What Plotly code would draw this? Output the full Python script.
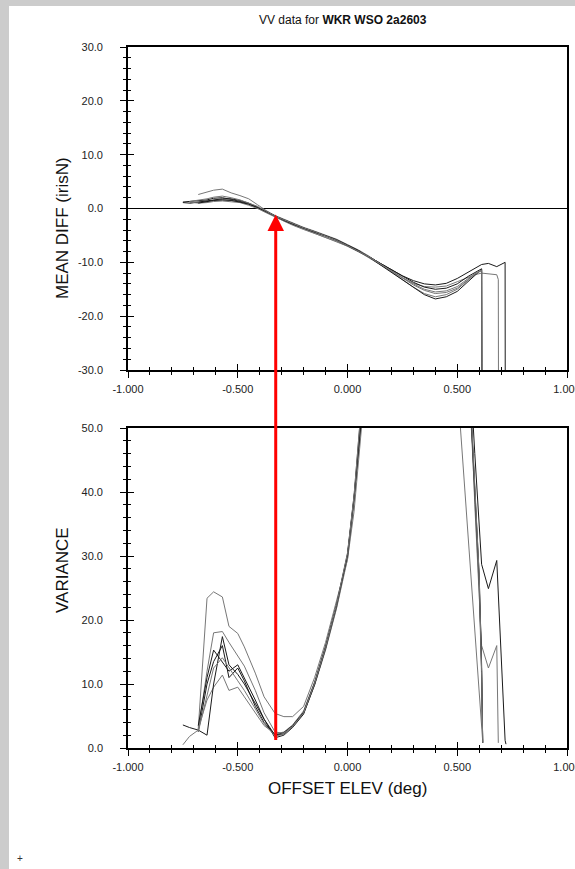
import plotly.graph_objects as go

# ---------------- data ----------------
# offset elevation grid (deg) for MEAN DIFF panel
X_TOP = [-0.75, -0.72, -0.68, -0.64, -0.61, -0.57, -0.53, -0.49, -0.45, -0.41,
         -0.37, -0.33, -0.29, -0.25, -0.20, -0.15, -0.10, -0.05, 0.00, 0.05,
         0.10, 0.15, 0.20, 0.25, 0.30, 0.35, 0.40, 0.45, 0.50, 0.55,
         0.58, 0.611, 0.614, 0.642, 0.68, 0.687, 0.69, 0.718, 0.72]

MEAN_1 = [1.2, 1.3, 1.4, 1.6, 1.9, 2.0, 1.7, 1.3, 0.9, 0.2,
          -0.6, -1.5, -2.2, -2.9, -3.7, -4.4, -5.1, -5.9, -6.9, -7.9,
          -9.0, -10.2, -11.4, -12.5, -13.4, -14.0, -14.2, -13.9, -13.0, -11.8,
          -11.0, -10.4, None, -10.2, -10.8, None, None, -10.0, -80.0]
MEAN_2 = [None, 1.0, 1.1, 1.3, 1.5, 1.6, 1.5, 1.2, 0.8, 0.1,
          -0.7, -1.6, -2.3, -3.0, -3.8, -4.5, -5.3, -6.1, -7.0, -8.0,
          -9.2, -10.5, -11.7, -12.9, -13.9, -14.5, -14.6, -14.4, -13.6, -12.8,
          -12.3, -12.0, None, -12.1, -12.3, -13.2, -80.0, None, None]
MEAN_3 = [None, None, 2.6, 3.1, 3.4, 3.6, 2.9, 2.4, 1.8, 0.7,
          -0.4, -1.3, -2.0, -2.7, -3.5, -4.2, -4.9, -5.7, -6.7, -7.7,
          -8.9, -10.3, -11.7, -13.2, -14.6, -15.8, -16.4, -16.0, -15.0, -13.3,
          -12.2, -11.5, -80.0, None, None, None, None, None, None]
MEAN_4 = [1.1, 1.0, 1.2, 1.4, 1.6, 1.8, 1.8, 1.5, 1.0, 0.3,
          -0.5, -1.4, -2.1, -2.8, -3.6, -4.3, -5.0, -5.8, -6.8, -7.8,
          -9.1, -10.5, -11.9, -13.3, -14.7, -16.0, -16.8, -16.4, -15.4, -13.6,
          -12.4, -11.3, -80.0, None, None, None, None, None, None]
MEAN_5 = [None, 1.2, 1.0, 1.1, 1.3, 1.4, 1.3, 1.1, 0.6, 0.0,
          -0.8, -1.6, -2.3, -3.1, -3.9, -4.6, -5.3, -6.1, -7.0, -8.0,
          -9.1, -10.3, -11.6, -12.8, -14.0, -15.0, -15.5, -15.3, -14.5, -13.0,
          -12.1, -11.6, -80.0, None, None, None, None, None, None]
MEAN_6 = [None, None, 1.0, 1.3, 1.5, 1.6, 1.5, 1.2, 0.8, 0.2,
          -0.6, -1.5, -2.2, -2.9, -3.7, -4.4, -5.1, -5.9, -6.9, -7.9,
          -9.0, -10.2, -11.4, -12.6, -13.7, -14.6, -15.0, -14.8, -14.0, -12.6,
          -11.9, -11.2, -80.0, None, None, None, None, None, None]
MEAN_7 = [None, 1.3, 1.5, 1.8, 2.1, 2.3, 2.0, 1.6, 1.0, 0.4,
          -0.5, -1.4, -2.1, -2.8, -3.6, -4.3, -5.1, -5.9, -6.9, -7.9,
          -9.0, -10.3, -11.6, -12.9, -14.2, -15.2, -15.8, -15.6, -14.8, -13.2,
          -12.2, -11.4, -80.0, None, None, None, None, None, None]

# offset elevation grid (deg) for VARIANCE panel
X_BOT = [-0.75, -0.72, -0.68, -0.64, -0.61, -0.57, -0.54, -0.50, -0.47, -0.42,
         -0.38, -0.33, -0.29, -0.25, -0.20, -0.15, -0.10, -0.05, 0.00, 0.03,
         0.06, 0.10, 0.30, 0.50, 0.53, 0.56, 0.58, 0.60, 0.611, 0.616,
         0.642, 0.68, 0.687, 0.718, 0.722]

VAR_1 = [None, None, 2.5, 10.0, 13.5, 16.0, 11.0, 12.5, 10.5, 6.5,
         4.0, 2.0, 2.2, 3.3, 5.5, 10.0, 15.5, 22.0, 30.0, 39.0,
         50.0, 68.0, 300.0, 120.0, 85.0, 58.0, 46.0, 35.0, 28.7, None,
         24.9, 29.3, None, 1.2, 0.6]
VAR_2 = [None, None, 3.0, 7.5, 9.5, 11.4, 9.0, 9.5, 8.0, 5.5,
         3.5, 2.2, 2.5, 3.6, 5.8, 10.3, 16.0, 22.5, 30.5, 39.5,
         51.0, 69.0, 300.0, 110.0, 80.0, 55.0, 38.0, 24.0, 16.0, None,
         12.5, 16.0, 0.8, None, None]
VAR_3 = [None, None, 3.0, 23.4, 24.4, 23.6, 19.0, 17.9, 15.8, 11.7,
         8.0, 5.4, 4.9, 4.9, 6.5, 11.0, 16.5, 23.0, 29.5, 37.0,
         47.0, 64.0, 300.0, 57.0, None, None, None, None, None, 1.0,
         None, None, None, None, None]
VAR_4 = [3.6, 3.2, 2.8, 2.0, 10.0, 17.4, 13.0, 11.5, 10.0, 7.0,
         4.5, 2.0, 2.4, 3.5, 5.6, 10.2, 15.8, 22.2, 30.0, 39.0,
         50.0, 68.0, 300.0, 100.0, 75.0, 54.0, 40.0, 26.0, 12.0, 0.8,
         None, None, None, None, None]
VAR_5 = [0.5, 1.8, 2.8, 12.0, 18.0, 18.2, 16.5, 14.5, 12.8, 9.0,
         5.5, 2.5, 2.3, 3.4, 5.4, 9.8, 15.3, 21.8, 29.5, 38.5,
         49.5, 67.0, 300.0, 100.0, 75.0, 53.0, 39.0, 25.0, 11.0, 0.8,
         None, None, None, None, None]
VAR_6 = [None, None, 3.5, 11.0, 15.3, 13.5, 12.0, 13.0, 11.0, 7.5,
         4.5, 1.6, 2.0, 3.2, 5.3, 9.9, 15.6, 22.3, 30.2, 39.2,
         50.5, 68.0, 300.0, 100.0, 75.0, 54.0, 40.0, 27.0, 13.0, 0.8,
         None, None, None, None, None]
VAR_7 = [None, None, 2.5, 8.0, 12.5, 14.1, 12.5, 10.5, 9.0, 6.0,
         3.8, 1.9, 2.1, 3.3, 5.5, 10.1, 15.7, 22.4, 30.4, 39.5,
         50.8, 69.0, 300.0, 100.0, 75.0, 55.0, 41.0, 27.0, 12.0, 0.8,
         None, None, None, None, None]

MEAN_SERIES = [MEAN_1, MEAN_2, MEAN_3, MEAN_4, MEAN_5, MEAN_6, MEAN_7]
VAR_SERIES = [VAR_1, VAR_2, VAR_3, VAR_4, VAR_5, VAR_6, VAR_7]

# tick values / labels (plain hyphen minus, as in the original)
X_TICKS = [-1.0, -0.5, 0.0, 0.5, 1.0]
X_TICK_TEXT = ["-1.000", "-0.500", "0.000", "0.500", "1.000"]
MEAN_TICKS = [-30, -20, -10, 0, 10, 20, 30]
MEAN_TICK_TEXT = ["-30.0", "-20.0", "-10.0", "0.0", "10.0", "20.0", "30.0"]
VAR_TICKS = [0, 10, 20, 30, 40, 50]
VAR_TICK_TEXT = ["0.0", "10.0", "20.0", "30.0", "40.0", "50.0"]

# red marker arrow: offset elevation and the two ends (variance -> mean diff)
ARROW_X = -0.327
ARROW_HEAD_MEANDIFF = -1.1
ARROW_TAIL_VARIANCE = 1.0

TITLE_PLAIN = "VV data for "
TITLE_BOLD = "WKR WSO 2a2603"

# ---------------- style / layout ----------------
W, H = 575, 869
LINE_COLORS = ["#1a1a1a", "#777777", "#777777", "#1a1a1a", "#777777", "#1a1a1a", "#777777"]

XD = [128 / W, 567 / W]
YT = [1 - 370 / H, 1 - 47 / H]
YB = [1 - 748 / H, 1 - 428 / H]
TOP_RANGE = [-30, 30]
BOT_RANGE = [0, 50]

FONT = "Liberation Sans, Arial, sans-serif"
TICKFONT = dict(family=FONT, size=11, color="#222222")

fig = go.Figure()
for ys, c in zip(MEAN_SERIES, LINE_COLORS):
    fig.add_trace(go.Scatter(x=X_TOP, y=ys, xaxis="x", yaxis="y", mode="lines",
                             line=dict(color=c, width=1), connectgaps=True,
                             hoverinfo="skip", showlegend=False))
for ys, c in zip(VAR_SERIES, LINE_COLORS):
    fig.add_trace(go.Scatter(x=X_BOT, y=ys, xaxis="x2", yaxis="y2", mode="lines",
                             line=dict(color=c, width=1), connectgaps=True,
                             hoverinfo="skip", showlegend=False))
# helper traces so that the inside-tick overlay axes are drawn
fig.add_trace(go.Scatter(x=[None], y=[None], xaxis="x3", yaxis="y3", mode="lines",
                         showlegend=False, hoverinfo="skip"))
fig.add_trace(go.Scatter(x=[None], y=[None], xaxis="x4", yaxis="y4", mode="lines",
                         showlegend=False, hoverinfo="skip"))


def base_axis(rng, tickvals, ticktext, minor_dtick, side_ticks, labels=True):
    return dict(range=rng, tickmode="array", tickvals=tickvals, ticktext=ticktext,
                ticks=side_ticks, ticklen=6, tickwidth=1.3, tickcolor="black",
                minor=dict(tickmode="linear", tick0=rng[0], dtick=minor_dtick,
                           ticks=side_ticks, ticklen=3, tickwidth=1, tickcolor="black"),
                showgrid=False, zeroline=False, showticklabels=labels,
                tickfont=TICKFONT, fixedrange=True)


def main_axis(rng, tickvals, ticktext, minor_dtick, standoff):
    d = base_axis(rng, tickvals, ticktext, minor_dtick, "outside")
    d.update(showline=True, mirror=True, linecolor="black", linewidth=1.6,
             ticklabelstandoff=standoff, ticklabeloverflow="allow")
    return d


def overlay_axis(rng, tickvals, ticktext, minor_dtick):
    d = base_axis(rng, tickvals, ticktext, minor_dtick, "inside", labels=False)
    d.update(showline=False)
    return d


xa = main_axis([-1, 1], X_TICKS, X_TICK_TEXT, 0.1, 2)
xa.update(domain=XD, anchor="y")
ya = main_axis(TOP_RANGE, MEAN_TICKS, MEAN_TICK_TEXT, 2, 15)
ya.update(domain=YT, anchor="x", zeroline=True, zerolinecolor="black", zerolinewidth=1)
xa2 = main_axis([-1, 1], X_TICKS, X_TICK_TEXT, 0.1, 2)
xa2.update(domain=XD, anchor="y2")
ya2 = main_axis(BOT_RANGE, VAR_TICKS, VAR_TICK_TEXT, 2, 15)
ya2.update(domain=YB, anchor="x2")

xa3 = overlay_axis([-1, 1], X_TICKS, X_TICK_TEXT, 0.1)
xa3.update(overlaying="x", anchor="y")
ya3 = overlay_axis(TOP_RANGE, MEAN_TICKS, MEAN_TICK_TEXT, 2)
ya3.update(overlaying="y", anchor="x")
xa4 = overlay_axis([-1, 1], X_TICKS, X_TICK_TEXT, 0.1)
xa4.update(overlaying="x2", anchor="y2")
ya4 = overlay_axis(BOT_RANGE, VAR_TICKS, VAR_TICK_TEXT, 2)
ya4.update(overlaying="y2", anchor="x2")

# arrow tail: convert variance value -> paper -> mean-diff axis units
tail_paper = YB[0] + (ARROW_TAIL_VARIANCE - BOT_RANGE[0]) / (BOT_RANGE[1] - BOT_RANGE[0]) * (YB[1] - YB[0])
tail_top = TOP_RANGE[0] + (tail_paper - YT[0]) / (YT[1] - YT[0]) * (TOP_RANGE[1] - TOP_RANGE[0])

annotations = [
    dict(text=TITLE_PLAIN + "<b>" + TITLE_BOLD + "</b>", x=0.596, y=1 - 20 / H,
         xref="paper", yref="paper", showarrow=False, xanchor="center", yanchor="middle",
         font=dict(family=FONT, size=12, color="#111111")),
    dict(text="MEAN DIFF (irisN)", x=62 / W, y=1 - 228 / H, xref="paper", yref="paper",
         textangle=-90, showarrow=False, xanchor="center", yanchor="middle",
         font=dict(family=FONT, size=17, color="#111111")),
    dict(text="VARIANCE", x=62 / W, y=1 - 570 / H, xref="paper", yref="paper",
         textangle=-90, showarrow=False, xanchor="center", yanchor="middle",
         font=dict(family=FONT, size=17, color="#111111")),
    dict(text="OFFSET ELEV (deg)", x=(XD[0] + XD[1]) / 2, y=1 - 788 / H,
         xref="paper", yref="paper", showarrow=False, xanchor="center", yanchor="middle",
         font=dict(family=FONT, size=17, color="#111111")),
    dict(text="+", x=20 / W, y=1 - 858 / H, xref="paper", yref="paper", showarrow=False,
         xanchor="center", yanchor="middle", font=dict(family=FONT, size=10, color="#333333")),
    dict(text="", x=ARROW_X, y=ARROW_HEAD_MEANDIFF, xref="x", yref="y",
         ax=ARROW_X, ay=tail_top, axref="x", ayref="y", showarrow=True,
         arrowhead=2, arrowsize=1.1, arrowwidth=3, arrowcolor="#ff0000", standoff=0),
]

shapes = [
    dict(type="rect", xref="paper", yref="paper", x0=0, x1=9 / W, y0=0, y1=1,
         fillcolor="#cccccc", line=dict(width=0), layer="below"),
    dict(type="rect", xref="paper", yref="paper", x0=0, x1=1, y0=1 - 6 / H, y1=1,
         fillcolor="#cccccc", line=dict(width=0), layer="below"),
]

fig.update_layout(
    width=W, height=H,
    margin=dict(l=0, r=0, t=0, b=0, autoexpand=False),
    paper_bgcolor="white", plot_bgcolor="rgba(0,0,0,0)",
    xaxis=xa, yaxis=ya, xaxis2=xa2, yaxis2=ya2,
    xaxis3=xa3, yaxis3=ya3, xaxis4=xa4, yaxis4=ya4,
    annotations=annotations, shapes=shapes, showlegend=False,
    font=dict(family=FONT),
)

fig.write_html(
    "out.html",
    config=dict(displayModeBar=False),
    post_script="document.body.style.margin='0px';document.body.style.padding='0px';"
                "document.body.style.overflow='hidden';",
)
